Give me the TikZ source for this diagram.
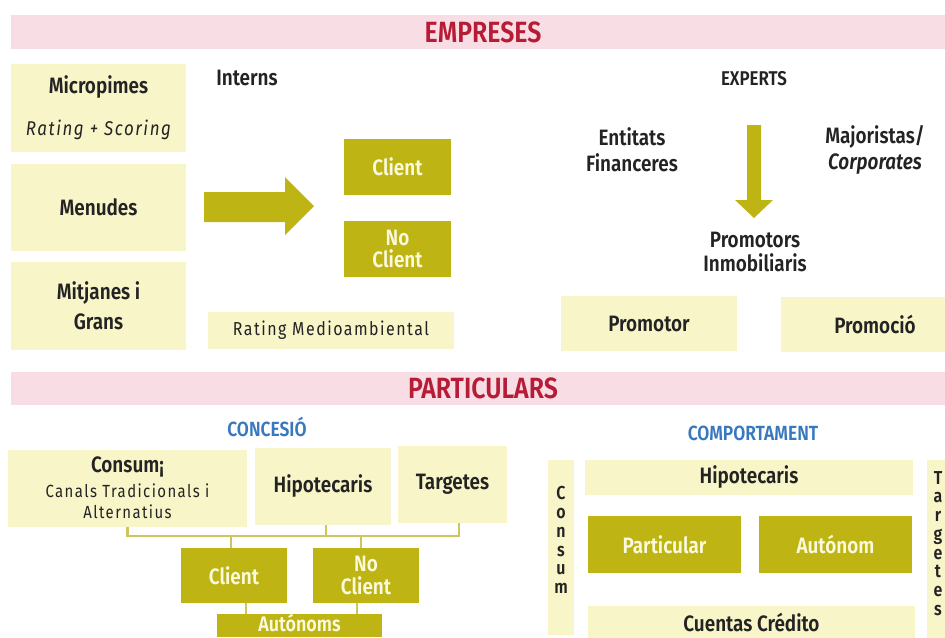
\documentclass[tikz,border=0pt]{standalone}
\usepackage{fontspec}
\setmainfont{Fira Sans}[FakeStretch=0.85, BoldFont={Fira Sans SemiBold}]
\newfontfamily\spacedfont{Fira Sans}[FakeStretch=0.85, LetterSpace=8, BoldFont={Fira Sans SemiBold}]
\definecolor{pinkband}{RGB}{249,221,229}
\definecolor{redtxt}{RGB}{183,28,54}
\definecolor{cream}{RGB}{248,245,201}
\definecolor{olivefill}{RGB}{190,181,20}
\definecolor{creamtxt}{RGB}{252,250,222}
\definecolor{bluetxt}{RGB}{55,120,190}
\definecolor{darktxt}{RGB}{35,35,35}
\definecolor{linkcol}{RGB}{206,197,92}

\begin{document}
\begin{tikzpicture}[
    x=0.3mm, y=-0.3mm,
    wh/.style 2 args={minimum width=#1*0.3mm, minimum height=#2*0.3mm},
    box/.style={fill=cream, inner sep=0pt, align=center, text=darktxt, font=\fontsize{19}{22}\selectfont\bfseries},
    oliv/.style={box, fill=olivefill, text=creamtxt},
    band/.style={fill=pinkband, inner sep=0pt, text=redtxt, font=\fontsize{25}{28}\selectfont\bfseries},
    lbl/.style={align=center, inner sep=0pt, text=darktxt, font=\fontsize{19}{22}\selectfont\bfseries},
    head/.style={inner sep=0pt, text=bluetxt, font=\fontsize{17.5}{20}\selectfont\bfseries},
    vert/.style={align=center, inner sep=0pt, text=darktxt, font=\fontsize{16}{16}\selectfont\bfseries},
    link/.style={draw=linkcol, line width=1.8pt}
]
    \clip (0,0) rectangle (945,637);

    % EMPRESES
    \node[band, wh={944}{34}] (empreses) at (483,32) {EMPRESES};

    % Internal segments
    \node[box, wh={175}{88}] (micro) at (98.5,108) {Micropimes\\[14pt]\mdseries\itshape\spacedfont\fontsize{17}{19}\selectfont Rating + Scoring};
    \node[box, wh={175}{87}] (menudes) at (98.5,207.5) {Menudes};
    \node[box, wh={175}{88}, font=\fontsize{19}{26}\selectfont\bfseries] (mitjanes) at (98.5,306) {Mitjanes i\\Grans};
    \node[lbl] (interns) at (247,78) {Interns};
    \fill[olivefill] (204,192) -- (285,192) -- (285,177) -- (314,206) -- (285,235) -- (285,222) -- (204,222) -- cycle;
    \node[oliv, wh={107}{56}] (client) at (397.5,167) {Client};
    \node[oliv, wh={107}{56}, font=\fontsize{19}{19.5}\selectfont\bfseries] (noclient) at (397.5,249) {No\\Client};
    \node[box, wh={246}{37}, font=\fontsize{16}{18}\selectfont\spacedfont] (rating) at (331,330.5) {Rating Medioambiental};

    % Experts
    \node[lbl, font=\fontsize{17}{20}\selectfont\bfseries] (experts) at (754,79) {EXPERTS};
    \node[lbl] (entitats) at (632,150) {Entitats\\Financeres};
    \node[lbl] (majoristas) at (875,150) {Majoristas/\\\itshape Corporates};
    \fill[olivefill] (747,125) -- (761,125) -- (761,200) -- (773,200) -- (754,218) -- (735,200) -- (747,200) -- cycle;
    \node[lbl, font=\fontsize{19}{21}\selectfont\bfseries] (promotors) at (755,252) {Promotors\\Inmobiliaris};
    \node[box, wh={176}{55}] (promotor) at (649,323.5) {Promotor};
    \node[box, wh={188}{55}] (promocio) at (875,324) {Promoció};

    % PARTICULARS
    \node[band, wh={944}{33}] (particulars) at (483,388.5) {PARTICULARS};

    % Concessio
    \node[head] (concesio) at (267,427) {CONCESIÓ};
    \node[box, wh={239}{77}] (consum) at (127.5,488) {Consum¡\\[-1pt]\mdseries\fontsize{15}{16}\selectfont\spacedfont Canals Tradicionals i\\[-4pt]\mdseries\fontsize{15}{16}\selectfont\spacedfont Alternatius};
    \node[box, wh={136}{77}] (hipo) at (323,486.5) {Hipotecaris};
    \node[box, wh={109}{77}] (targ) at (452.5,484.5) {Targetes};
    \node[oliv, wh={106}{55}] (client2) at (234,575.5) {Client};
    \node[oliv, wh={106}{55}, font=\fontsize{19}{19.5}\selectfont\bfseries] (noclient2) at (366,575.5) {No\\Client};
    \node[oliv, wh={165}{23}, font=\fontsize{18}{20}\selectfont\bfseries] (autonoms) at (299.5,625.5) {\raisebox{4pt}{Autónoms}};

    \coordinate (bar) at (0,536);
    \draw[link] (consum.south) -- (consum.south |- bar) -| ([xshift=2mm]targ.south);
    \draw[link] ([xshift=1mm]hipo.south) -- ([xshift=1mm]hipo.south |- bar);
    \draw[link] ([xshift=-0.9mm]client2.north) -- ([xshift=-0.9mm]client2.north |- bar);
    \draw[link] ([xshift=-1.5mm]noclient2.north) -- ([xshift=-1.5mm]noclient2.north |- bar);
    \draw[link] ([xshift=3.6mm]client2.south) -- ([xshift=3.6mm]client2.south |- autonoms.north);
    \draw[link] ([xshift=-2.7mm]noclient2.south) -- ([xshift=-2.7mm]noclient2.south |- autonoms.north);

    % Comportament
    \node[head] (comport) at (753,433) {COMPORTAMENT};
    \node[box, wh={26}{175}] (consumv) at (561,547.5) {};
    \node[vert] (consumtxt) at (561,540) {C\\o\\n\\s\\u\\m};
    \node[box, wh={328}{35}] (hipo2) at (749,477.5) {Hipotecaris};
    \node[oliv, wh={153}{57}] (particular) at (664.5,544.5) {Particular};
    \node[oliv, wh={153}{57}] (autonom) at (835.5,544.5) {Autónom};
    \node[box, wh={327}{32}] (cuentas) at (751.5,622) {Cuentas Crédito};
    \node[box, wh={24}{200}] (targv) at (939,560) {};
    \node[vert] (targtxt) at (938,543.5) {T\\a\\r\\g\\e\\t\\e\\s};
\end{tikzpicture}
\end{document}
